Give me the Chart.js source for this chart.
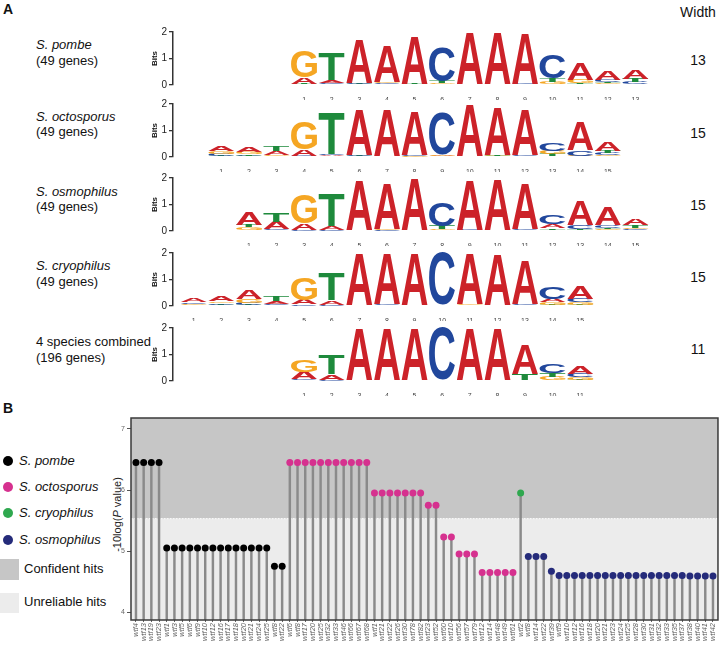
<!DOCTYPE html>
<html>
<head>
<meta charset="utf-8">
<script src="https://cdn.jsdelivr.net/npm/chart.js@4.4.0/dist/chart.umd.min.js"></script>
<style>
  body { margin: 0; background: #fff; }
  #page { position: relative; width: 723px; height: 647px; overflow: hidden; font-family: "Liberation Sans", Arial, sans-serif; color: #111; }
  .t { position: absolute; white-space: nowrap; line-height: 1; }
  .sp { font-size: 13px; left: 36px; }
  .w { font-size: 14px; left: 678px; width: 40px; text-align: center; }
  .dot { position: absolute; width: 10px; height: 10px; border-radius: 50%; left: 3px; }
  .lg { font-size: 13px; left: 19px; font-style: italic; }
  canvas { position: absolute; }
</style>
</head>
<body>
<div id="page">
  <div class="t" style="left:3px;top:2px;font-size:14px;font-weight:bold;">A</div>
  <div class="t w" style="top:5px;">Width</div>

  <div class="t sp" style="top:38px;"><i>S. pombe</i></div>
  <div class="t sp" style="top:54px;">(49 genes)</div>
  <div class="t sp" style="top:110px;"><i>S. octosporus</i></div>
  <div class="t sp" style="top:125px;">(49 genes)</div>
  <div class="t sp" style="top:185px;"><i>S. osmophilus</i></div>
  <div class="t sp" style="top:200px;">(49 genes)</div>
  <div class="t sp" style="top:259px;"><i>S. cryophilus</i></div>
  <div class="t sp" style="top:275px;">(49 genes)</div>
  <div class="t sp" style="top:335px;">4 species combined</div>
  <div class="t sp" style="top:351px;">(196 genes)</div>

  <div class="t w" style="top:53px;">13</div>
  <div class="t w" style="top:126px;">15</div>
  <div class="t w" style="top:198px;">15</div>
  <div class="t w" style="top:270px;">15</div>
  <div class="t w" style="top:342px;">11</div>

  <canvas id="logo0" width="522" height="76" style="left:130px;top:24px;"></canvas>
  <canvas id="logo1" width="522" height="76" style="left:130px;top:96px;"></canvas>
  <canvas id="logo2" width="522" height="76" style="left:130px;top:170px;"></canvas>
  <canvas id="logo3" width="522" height="76" style="left:130px;top:245px;"></canvas>
  <canvas id="logo4" width="522" height="76" style="left:130px;top:320px;"></canvas>

  <div class="t" style="left:3px;top:401px;font-size:14px;font-weight:bold;">B</div>

  <div class="dot" style="top:456px;background:#000;"></div>
  <div class="t lg" style="top:454px;">S. pombe</div>
  <div class="dot" style="top:482px;background:#d6318f;"></div>
  <div class="t lg" style="top:480px;">S. octosporus</div>
  <div class="dot" style="top:508px;background:#2fa84f;"></div>
  <div class="t lg" style="top:506px;">S. cryophilus</div>
  <div class="dot" style="top:535px;background:#252b7a;"></div>
  <div class="t lg" style="top:533px;">S. osmophilus</div>
  <div style="position:absolute;left:0;top:559px;width:19px;height:21px;background:#c6c6c6;"></div>
  <div class="t" style="left:24px;top:562px;font-size:13px;">Confident hits</div>
  <div style="position:absolute;left:0;top:593px;width:19px;height:20px;background:#ececec;"></div>
  <div class="t" style="left:24px;top:595px;font-size:13px;">Unreliable hits</div>

  <div class="t" style="left:67px;top:509px;width:100px;font-size:11px;text-align:center;color:#222;transform:rotate(-90deg);">-10log(<i>P</i> value)</div>

  <canvas id="lollipop" width="623" height="247" style="left:100px;top:400px;"></canvas>
</div>

<script>
// ---- Part A: motif logos (bits per letter, per position) ----
const pombeA = [0.25, 0.10, 1.68, 1.38, 1.83, 0.03, 1.97, 1.96, 1.90, 0.02, 0.65, 0.35, 0.32];
const pombeC = [0.02, 0.05, 0.04, 0.04, 0.01, 1.30, 0.01, 0.01, 0.02, 0.90, 0.04, 0.08, 0.08];
const pombeG = [0.98, 0.03, 0.02, 0.06, 0.01, 0.05, 0.01, 0.01, 0.01, 0.10, 0.12, 0.06, 0.04];
const pombeT = [0.02, 1.00, 0.02, 0.02, 0.03, 0.07, 0.01, 0.01, 0.01, 0.15, 0.04, 0.06, 0.12];

const octoA = [0.20, 0.20, 0.15, 0.25, 0.05, 1.70, 1.75, 1.68, 0.03, 1.97, 1.83, 1.72, 0.03, 1.07, 0.35];
const octoC = [0.08, 0.05, 0.04, 0.03, 0.05, 0.03, 0.01, 0.05, 1.60, 0.01, 0.02, 0.04, 0.27, 0.20, 0.08];
const octoG = [0.10, 0.07, 0.04, 1.05, 0.02, 0.02, 0.01, 0.02, 0.05, 0.01, 0.02, 0.01, 0.12, 0.03, 0.06];
const octoT = [0.05, 0.05, 0.17, 0.02, 1.55, 0.02, 0.01, 0.01, 0.02, 0.01, 0.03, 0.01, 0.07, 0.02, 0.10];

const osmoA = [0.48, 0.27, 0.25, 0.15, 1.88, 1.70, 1.97, 0.03, 1.85, 1.93, 1.70, 0.15, 0.95, 0.70, 0.25];
const osmoC = [0.04, 0.05, 0.02, 0.02, 0.01, 0.02, 0.01, 0.90, 0.03, 0.01, 0.06, 0.35, 0.12, 0.10, 0.06];
const osmoG = [0.10, 0.02, 1.10, 0.01, 0.01, 0.05, 0.01, 0.03, 0.01, 0.01, 0.01, 0.04, 0.04, 0.06, 0.06];
const osmoT = [0.10, 0.33, 0.01, 1.20, 0.01, 0.01, 0.01, 0.12, 0.01, 0.01, 0.01, 0.06, 0.05, 0.06, 0.10];

const cryoA = [0.14, 0.18, 0.35, 0.10, 0.17, 0.16, 1.97, 1.92, 1.97, 0.01, 1.90, 1.93, 1.65, 0.12, 0.50];
const cryoC = [0.06, 0.06, 0.08, 0.05, 0.05, 0.04, 0.01, 0.04, 0.01, 1.98, 0.01, 0.01, 0.06, 0.43, 0.12];
const cryoG = [0.05, 0.06, 0.12, 0.03, 0.85, 0.01, 0.01, 0.01, 0.01, 0.01, 0.04, 0.01, 0.01, 0.10, 0.10];
const cryoT = [0.03, 0.05, 0.05, 0.17, 0.01, 1.00, 0.01, 0.01, 0.01, 0.01, 0.01, 0.01, 0.01, 0.05, 0.05];

const allA = [0.28, 0.20, 1.95, 1.95, 1.95, 0.01, 1.94, 1.94, 1.10, 0.04, 0.30];
const allC = [0.05, 0.04, 0.01, 0.01, 0.01, 1.98, 0.01, 0.01, 0.01, 0.35, 0.12];
const allG = [0.45, 0.01, 0.01, 0.01, 0.01, 0.01, 0.01, 0.01, 0.01, 0.12, 0.10];
const allT = [0.02, 0.72, 0.01, 0.01, 0.01, 0.01, 0.01, 0.01, 0.23, 0.12, 0.05];

const bitTicks = [0, 1, 2];

// ---- Part B: wtf genes, -10log(P) ----
const pombeGenes = ['wtf4', 'wtf13', 'wtf19', 'wtf23', 'wtf1', 'wtf3', 'wtf5', 'wtf6', 'wtf9', 'wtf10', 'wtf12', 'wtf16', 'wtf17', 'wtf18', 'wtf20', 'wtf21', 'wtf24', 'wtf25', 'wtf8', 'wtf22'];
const pombeScores = [6.45, 6.45, 6.45, 6.45, 5.05, 5.05, 5.05, 5.05, 5.05, 5.05, 5.05, 5.05, 5.05, 5.05, 5.05, 5.05, 5.05, 5.05, 4.75, 4.75];
const octoGenes = ['wtf6', 'wtf8', 'wtf17', 'wtf20', 'wtf25', 'wtf32', 'wtf33', 'wtf46', 'wtf66', 'wtf67', 'wtf68', 'wtf1', 'wtf21', 'wtf22', 'wtf26', 'wtf30', 'wtf78', 'wtf82', 'wtf23', 'wtf52', 'wtf60', 'wtf10', 'wtf56', 'wtf57', 'wtf79', 'wtf12', 'wtf14', 'wtf48', 'wtf49', 'wtf61'];
const octoScores = [6.45, 6.45, 6.45, 6.45, 6.45, 6.45, 6.45, 6.45, 6.45, 6.45, 6.45, 5.95, 5.95, 5.95, 5.95, 5.95, 5.95, 5.95, 5.75, 5.75, 5.23, 5.23, 4.95, 4.95, 4.95, 4.65, 4.65, 4.65, 4.65, 4.65];
const cryoGenes = ['wtf2'];
const cryoScores = [5.95];
const osmoGenes = ['wtf8', 'wtf14', 'wtf22', 'wtf39', 'wtf9', 'wtf10', 'wtf12', 'wtf16', 'wtf18', 'wtf20', 'wtf21', 'wtf23', 'wtf24', 'wtf25', 'wtf28', 'wtf30', 'wtf31', 'wtf32', 'wtf33', 'wtf35', 'wtf37', 'wtf38', 'wtf40', 'wtf41', 'wtf42'];
const osmoScores = [4.91, 4.91, 4.91, 4.67, 4.60, 4.60, 4.60, 4.60, 4.60, 4.60, 4.60, 4.60, 4.60, 4.60, 4.60, 4.60, 4.60, 4.60, 4.60, 4.60, 4.60, 4.59, 4.59, 4.59, 4.59];
const scoreTicks = [4, 5, 6, 7];
const confidentCutoff = 5.53;

Chart.defaults.font.family = '"Liberation Sans", Arial, sans-serif';
Chart.defaults.animation = false;

const letterColors = { A: '#cc2229', C: '#21479c', G: '#f5a623', T: '#1e8a3c' };
const glyphCache = {};

function glyphBox(ctx, letter) {
    if (!glyphCache[letter]) {
        ctx.save();
        ctx.font = 'bold 100px "Liberation Sans", Arial, sans-serif';
        const m = ctx.measureText(letter);
        ctx.restore();
        glyphCache[letter] = {
            left: m.actualBoundingBoxLeft,
            w: m.actualBoundingBoxLeft + m.actualBoundingBoxRight,
            asc: m.actualBoundingBoxAscent,
            h: m.actualBoundingBoxAscent + m.actualBoundingBoxDescent
        };
    }
    return glyphCache[letter];
}

// dessine chaque lettre étirée dans le rectangle de sa barre
const logoLetters = {
    id: 'logoLetters',
    afterDatasetsDraw(chart) {
        const ctx = chart.ctx;
        chart.data.datasets.forEach((ds, di) => {
            chart.getDatasetMeta(di).data.forEach((bar, i) => {
                const { x, y, base, width } = bar.getProps(['x', 'y', 'base', 'width'], true);
                const h = base - y;
                if (h < 0.3) return;
                const letter = ds.letters[i];
                const g = glyphBox(ctx, letter);
                ctx.save();
                ctx.font = 'bold 100px "Liberation Sans", Arial, sans-serif';
                ctx.translate(x - width / 2, y);
                ctx.scale(width / g.w, h / g.h);
                ctx.fillStyle = letterColors[letter];
                ctx.textBaseline = 'alphabetic';
                ctx.textAlign = 'left';
                ctx.fillText(letter, g.left, g.asc);
                ctx.restore();
            });
        });
    }
};

function rankedDatasets(a, c, g, t, first) {
    const cols = a.map((_, i) => [['A', a[i]], ['C', c[i]], ['G', g[i]], ['T', t[i]]].sort((p, q) => p[1] - q[1]));
    return [0, 1, 2, 3].map(r => ({
        data: cols.map((col, i) => ({ x: first + i, y: col[r][1] })),
        letters: cols.map(col => col[r][0]),
        backgroundColor: 'rgba(0,0,0,0)',
        barThickness: 26,
        stack: 'logo'
    }));
}

function buildLogo(id, a, c, g, t, first) {
    new Chart(document.getElementById(id), {
        type: 'bar',
        data: { datasets: rankedDatasets(a, c, g, t, first) },
        options: {
            responsive: false,
            devicePixelRatio: 1,
            layout: { padding: { top: 4, right: 0, left: 0, bottom: 0 } },
            plugins: { legend: { display: false }, tooltip: { enabled: false } },
            scales: {
                x: {
                    type: 'linear',
                    stacked: true,
                    offset: false,
                    min: -4.75,
                    max: 12.6,
                    afterBuildTicks: s => { s.ticks = a.map((_, i) => ({ value: first + i })); },
                    afterFit: s => { s.height = 15; },
                    grid: { display: false, offset: false },
                    border: { display: false },
                    ticks: {
                        font: { size: 7 }, color: '#444', padding: 3, maxRotation: 0, minRotation: 0, autoSkip: false,
                        callback: function (v, i) { return String(i + 1); }
                    }
                },
                y: {
                    stacked: true,
                    min: 0,
                    max: 2,
                    afterBuildTicks: s => { s.ticks = bitTicks.map(v => ({ value: v })); },
                    afterFit: s => { s.width = 43; },
                    title: { display: true, text: 'Bits', font: { size: 8, weight: 'bold' }, color: '#111', padding: { top: 20, bottom: 0 } },
                    grid: { drawOnChartArea: false, drawTicks: true, tickLength: 4, color: '#333', lineWidth: 1.3 },
                    border: { display: true, color: '#333', width: 1.5 },
                    ticks: { font: { size: 10 }, color: '#222', padding: 2 }
                }
            }
        },
        plugins: [logoLetters]
    });
}

buildLogo('logo0', pombeA, pombeC, pombeG, pombeT, 0);
buildLogo('logo1', octoA, octoC, octoG, octoT, -3);
buildLogo('logo2', osmoA, osmoC, osmoG, osmoT, -2);
buildLogo('logo3', cryoA, cryoC, cryoG, cryoT, -4);
buildLogo('logo4', allA, allC, allG, allT, 0);

// ---- Part B ----
const geneLabels = [...pombeGenes, ...octoGenes, ...cryoGenes, ...osmoGenes];
const geneScores = [...pombeScores, ...octoScores, ...cryoScores, ...osmoScores];
const geneColors = [
    ...pombeGenes.map(() => '#000000'),
    ...octoGenes.map(() => '#d6318f'),
    ...cryoGenes.map(() => '#2fa84f'),
    ...osmoGenes.map(() => '#252b7a')
];
const yMin = 3.87;

const hitZones = {
    id: 'hitZones',
    beforeDatasetsDraw(chart) {
        const { ctx, chartArea: a, scales: { y } } = chart;
        const cy = y.getPixelForValue(confidentCutoff);
        ctx.save();
        ctx.fillStyle = '#c6c6c6';
        ctx.fillRect(a.left, a.top, a.width, cy - a.top);
        ctx.fillStyle = '#ececec';
        ctx.fillRect(a.left, cy, a.width, a.bottom - cy);
        ctx.strokeStyle = '#ffffff';
        ctx.lineWidth = 1;
        ctx.setLineDash([1.5, 1.5]);
        ctx.beginPath();
        ctx.moveTo(a.left, cy);
        ctx.lineTo(a.right, cy);
        ctx.stroke();
        ctx.restore();
    },
    afterDraw(chart) {
        const { ctx, chartArea: a } = chart;
        ctx.save();
        ctx.strokeStyle = '#3a3a3a';
        ctx.lineWidth = 1.5;
        ctx.strokeRect(a.left, a.top, a.width, a.height);
        ctx.restore();
    }
};

new Chart(document.getElementById('lollipop'), {
    type: 'bar',
    data: {
        datasets: [
            {
                type: 'scatter',
                data: geneScores.map((v, i) => ({ x: i, y: v })),
                pointBackgroundColor: geneColors,
                pointBorderWidth: 0,
                pointRadius: 3.5,
                pointHoverRadius: 3.5,
                order: 0
            },
            {
                type: 'bar',
                data: geneScores.map((v, i) => ({ x: i, y: [yMin, v] })),
                backgroundColor: '#8a8a8a',
                barThickness: 1.8,
                order: 1
            }
        ]
    },
    options: {
        responsive: false,
        devicePixelRatio: 1,
        layout: { padding: { top: 18, right: 1, left: 0, bottom: 0 } },
        plugins: { legend: { display: false }, tooltip: { enabled: false } },
        scales: {
            x: {
                type: 'linear',
                offset: false,
                min: -0.645,
                max: 75.65,
                afterBuildTicks: s => { s.ticks = geneLabels.map((_, i) => ({ value: i })); },
                afterFit: s => { s.height = 27; },
                grid: { display: true, drawOnChartArea: false, drawTicks: true, tickLength: 2, color: '#666', offset: false },
                border: { display: false },
                ticks: { autoSkip: false, maxRotation: 90, minRotation: 90, font: { size: 7.5, style: 'italic' }, color: '#666', padding: 1, callback: (v, i) => geneLabels[i] }
            },
            y: {
                min: yMin,
                max: 7.18,
                beginAtZero: false,
                afterBuildTicks: s => { s.ticks = scoreTicks.map(v => ({ value: v })); },
                afterFit: s => { s.width = 31; },
                grid: { drawOnChartArea: false, drawTicks: true, tickLength: 4, color: '#555' },
                border: { display: false },
                ticks: { font: { size: 7 }, color: '#666', padding: 2 }
            }
        }
    },
    plugins: [hitZones]
});
</script>
</body>
</html>
